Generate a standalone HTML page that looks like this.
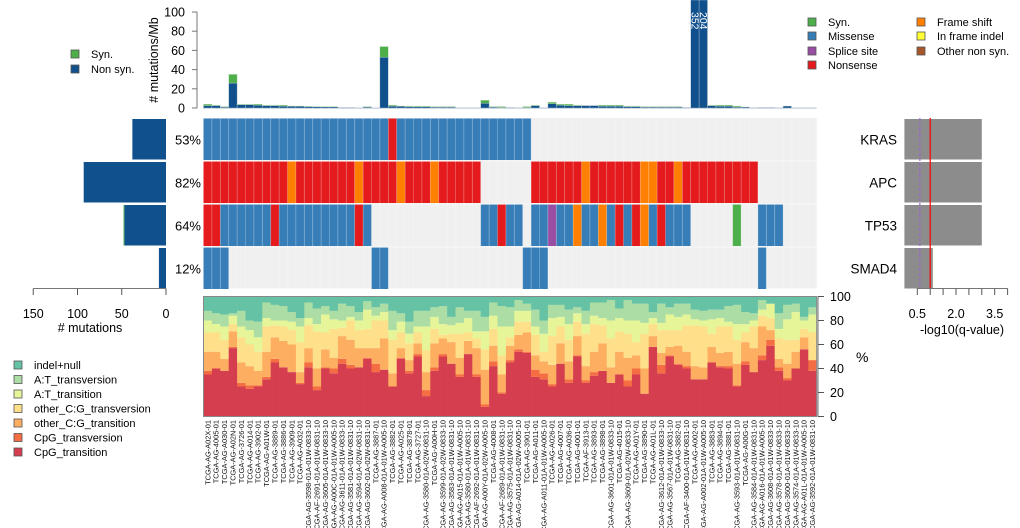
<!DOCTYPE html>
<html><head><meta charset="utf-8">
<style>
html,body{margin:0;padding:0;background:#fff;overflow:hidden}
svg{display:block;font-family:"Liberation Sans",sans-serif}
</style></head>
<body>
<svg id="chart" width="1020" height="528" viewBox="0 0 1020 528" xmlns="http://www.w3.org/2000/svg">
<g id="gTop"></g>
<g id="gMatrix"></g>
<g id="gLeft"></g>
<g id="gRight"></g>
<g id="gBottom"></g>
<g id="gLabels"></g>
<g id="gLegend"></g>
</svg>
<script>
// ---------- data ----------
const samples = ["TCGA-AG-A02X-01","TCGA-AG-4005-01","TCGA-AG-A030-01","TCGA-AG-A02N-01","TCGA-AG-3726-01","TCGA-AG-A014-01","TCGA-AG-3902-01","TCGA-AG-A01W-01","TCGA-AG-3889-01","TCGA-AG-3886-01","TCGA-AG-3909-01","TCGA-AG-A032-01","TCGA-AG-3598-01A-01W-0833-10","TCGA-AF-2691-01A-01W-0831-10","TCGA-AG-3605-01A-01W-0833-10","TCGA-AG-A00C-01A-01W-A005-10","TCGA-AG-3611-01A-01W-0833-10","TCGA-AG-3581-01A-01W-0831-10","TCGA-AG-3594-01A-02W-0831-10","TCGA-AG-3602-01A-02W-0831-10","TCGA-AG-3887-01","TCGA-AG-A008-01A-01W-A005-10","TCGA-AG-3882-01","TCGA-AG-A025-01","TCGA-AG-3878-01","TCGA-AG-3727-01","TCGA-AG-3580-01A-02W-0831-10","TCGA-AG-A00H-01","TCGA-AG-3599-01A-02W-0833-10","TCGA-AG-3583-01A-01W-0831-10","TCGA-AG-A015-01A-01W-A005-10","TCGA-AG-3580-01A-01W-0831-10","TCGA-AF-2692-01A-01W-0831-10","TCGA-AG-A00Y-01A-02W-A005-10","TCGA-AG-4008-01","TCGA-AF-2689-01A-01W-0831-10","TCGA-AG-3575-01A-01W-0831-10","TCGA-AG-A014-01A-02W-A005-10","TCGA-AG-3901-01","TCGA-AG-A011-01","TCGA-AG-A011-01A-01W-A005-10","TCGA-AG-A026-01","TCGA-AG-4007-01","TCGA-AG-A036-01","TCGA-AG-4001-01","TCGA-AF-3913-01","TCGA-AG-3893-01","TCGA-AG-3898-01","TCGA-AG-3601-01A-01W-0833-10","TCGA-AG-4015-01","TCGA-AG-3609-01A-02W-0833-10","TCGA-AG-A01Y-01","TCGA-AG-3890-01","TCGA-AG-A01L-01","TCGA-AG-3612-01A-01W-0833-10","TCGA-AG-3567-01A-01W-0831-10","TCGA-AG-3882-01","TCGA-AF-3400-01A-01W-0831-10","TCGA-AG-A002-01","TCGA-AG-A002-01A-01W-A005-10","TCGA-AG-3883-01","TCGA-AG-3894-01","TCGA-AG-3881-01","TCGA-AG-3593-01A-01W-0831-10","TCGA-AG-A00G-01","TCGA-AG-3584-01A-01W-0831-10","TCGA-AG-A016-01A-01W-A005-10","TCGA-AG-3608-01A-01W-0833-10","TCGA-AG-3578-01A-01W-0833-10","TCGA-AG-3600-01A-01W-0833-10","TCGA-AG-3574-01A-01W-0833-10","TCGA-AG-A01L-01A-01W-A005-10","TCGA-AG-3592-01A-01W-0831-10"];

const nonSynRate = [2.5,2.5,1,26,3.5,3.5,3,2.5,2.5,2,1.8,1.8,1.5,1.3,1.2,1.2,0.5,0.5,0.3,1,0.3,53,2,1.8,1.5,1.3,1.3,1,1,1,0.3,0.3,0.3,5,1,0.5,0.5,0.3,0.5,2.5,0.3,4.5,3,2.5,2.5,2.5,2.5,2,2,2,1.5,1.5,1,1,1,1,1,0.5,352,204,2.5,2,2,1,1,0.3,0.5,0.5,0.3,2,0.3,0.3,0.3];
const synRate    = [1.5,0.5,0.5,9,0.5,0.5,1,0.5,0.5,1,0.2,0.2,0.3,0.2,0.3,0.3,0,0,0,0.5,0,11,1,0.2,0.5,0.7,0.7,0.5,0.5,0.5,0,0,0,3,0.5,1,0,0,1,0.5,0,1.5,1,1.5,0.5,0,0,1,1,1,0.5,0.5,0.5,0.5,0.5,0.5,0.5,0,0,0,0.5,1,1,1,0,0,0,0,0,0,0,0,0];
const topTicks = [0,20,40,60,80,100];

const genes = ["KRAS","APC","TP53","SMAD4"];
const genePct = ["53%","82%","64%","12%"];
const geneNonSynCount = [38,93,47,8];
const geneSynCount = [0,0,1,0];
const geneQ = [3.0,3.0,3.0,1.1];
const leftTicks = [150,100,50,0];
const qTicks = [0.5,2.0,3.5];
// M missense, N nonsense, F frame shift, S splice, Y syn, . none
const alterations = [
 "MMMMMMMMMMMMMMMMMMMMMMNMMMMMMMMMMMMMMMM..................................",
 "NNNNNNNNNNFNNNNNNNFNNNNFNNNFNNNNN......NNNNNNFNNNNNNFFNNFNNNNNNNNN.......",
 "NNMMMMMMNMMMMMMMMMNM.............MMNMM.MMSMMFMMFMNMNFMNMMM.....Y..MMM....",
 "MMM.................MM................MMM.........................M......"
];

// cumulative tops (%) of each spectrum layer
const cpgTransition = [35,40,38,57,25,23,25,31,45,41,37,27,41,22,40,36,44,40,41,48,37,39,25,48,36,50,17,38,50,44,33,52,33,8,42,19,45,54,53,33,31,25,44,28,50,28,34,38,28,35,25,35,19,58,36,50,43,40,31,31,45,41,40,25,43,37,47,59,38,30,40,56,38];
const cpgTransversion = [38,40,38,58,28,26,26,33,48,41,37,28,45,25,41,40,48,43,41,49,44,39,25,49,38,52,22,41,52,44,35,52,35,10,46,20,47,56,54,39,36,27,44,31,51,30,37,38,28,35,30,40,19,58,43,51,44,42,31,31,45,42,42,26,46,37,51,64,41,32,40,56,47];
const otherCGTransition = [54,54,48,71,45,42,38,54,66,63,60,37,57,40,56,49,67,64,57,57,57,65,36,57,47,61,37,61,65,62,49,63,57,39,59,35,59,68,70,51,46,43,61,46,67,42,54,61,41,54,49,51,40,67,53,58,59,54,42,41,58,53,54,44,62,57,75,72,48,44,54,66,47];
const otherCGTransversion = [70,70,64,77,66,60,54,75,76,75,72,62,76,71,70,73,74,80,72,73,80,80,64,70,61,70,55,73,68,69,69,70,65,56,73,51,66,79,79,68,54,67,75,64,79,69,77,76,65,71,69,62,69,77,72,72,72,76,76,75,69,75,75,64,70,75,84,82,65,64,64,73,70];
const atTransition = [80,77,75,84,75,72,66,82,80,80,79,75,82,77,85,81,80,83,80,89,84,87,72,79,69,75,75,83,77,76,78,82,71,71,84,75,75,88,88,75,69,82,83,77,86,77,84,82,80,82,80,80,78,82,78,85,83,85,81,80,81,82,79,77,77,80,89,94,73,81,87,80,85];
const atTransversion = [88,86,85,86,88,80,79,95,93,92,87,82,95,90,92,88,94,92,87,96,91,94,88,86,79,88,88,91,92,83,91,88,88,83,95,92,91,97,94,89,80,93,93,89,91,88,95,95,97,90,97,94,94,87,94,91,94,94,89,88,89,89,92,93,87,86,97,94,86,93,94,83,91];
const bottomTicks = [0,20,40,60,80,100];

// ---------- helpers ----------
const NS="http://www.w3.org/2000/svg";
function mk(parent,tag,attrs,text){const e=document.createElementNS(NS,tag);for(const k in attrs)e.setAttribute(k,attrs[k]);if(text!==undefined)e.textContent=text;parent.appendChild(e);return e;}
const X0=203.5, CW=8.4, N=samples.length;
const colX = i => X0 + i*CW;
const topY = v => 108 - Math.min(v,112.5)*0.96;
const botY = v => 416.5 - v*1.2;
const leftX = v => 166 - v*0.885;
const qX = v => 904.4 + v*25.8;
const rowTop = [118.5,161.5,204.5,247.5], RH=41.5;

// ---------- top chart ----------
const gTop=document.getElementById('gTop');
mk(gTop,'line',{x1:197,y1:12,x2:197,y2:108,stroke:'#777'});
topTicks.forEach(t=>{
  const tk=mk(gTop,'line',{x1:192,x2:197,y1:topY(t),y2:topY(t),stroke:'#777'});
  
  
  const lb=mk(gTop,'text',{x:185,y:topY(t)+4.5,'text-anchor':'end','font-size':12.5,fill:'#000'},String(t));
  
  
});
const yt=mk(gTop,'text',{transform:'translate(158,60) rotate(-90)','text-anchor':'middle','font-size':12.5},'# mutations/Mb');


mk(gTop,'line',{x1:203,x2:816,y1:108.3,y2:108.3,stroke:'#c8d2dc','stroke-width':0.8});
for(let i=0;i<N;i++){
  const ns=nonSynRate[i], sy=synRate[i];
  const b=mk(gTop,'rect',{x:colX(i),width:CW,y:topY(ns),height:108-topY(ns),fill:'#10508c',stroke:'#b9c7d6','stroke-width':0.4});
  
  
  if(sy>0){
    const s=mk(gTop,'rect',{x:colX(i),width:CW,y:topY(ns+sy),height:topY(ns)-topY(ns+sy),fill:'#4daf4a',stroke:'#b9d6b9','stroke-width':0.4});
    
    
  }
  if(ns+sy>100){
    const t=mk(gTop,'text',{transform:`translate(${colX(i)+CW/2-3.5},12) rotate(90)`,'font-size':10.5,fill:'#fff'},String(ns+sy));
    
    
  }
}

// ---------- matrix ----------
const gM=document.getElementById('gMatrix');
const altColor={M:'#377eb8',N:'#e41a1c',F:'#ff7f00',S:'#984ea3',Y:'#4daf4a'};
mk(gM,'rect',{x:X0,y:118,width:N*CW,height:170.5,fill:'#f0f0f0'});
genes.forEach((g,r)=>{
  for(let i=0;i<N;i++){
    const c=alterations[r][i];
    if(c!=='.' && altColor[c]){
      const cell=mk(gM,'rect',{x:colX(i),y:rowTop[r],width:CW,height:RH,fill:altColor[c]});
      
      
    }
  }
});
for(let i=1;i<N;i++) mk(gM,'line',{x1:colX(i),x2:colX(i),y1:118,y2:289,stroke:'rgba(255,255,255,0.3)','stroke-width':0.8});
[161,204,247].forEach(y=>mk(gM,'line',{x1:X0,x2:X0+N*CW,y1:y,y2:y,stroke:'rgba(255,255,255,0.45)','stroke-width':1.2}));
genes.forEach((g,r)=>{
  const p=mk(gM,'text',{x:201,y:rowTop[r]+RH/2+5,'text-anchor':'end','font-size':13},genePct[r]);
  
  
  const gl=mk(gM,'text',{x:897,y:rowTop[r]+RH/2+5,'text-anchor':'end','font-size':13.5},g);
  
  
});

// ---------- left bars ----------
const gL=document.getElementById('gLeft');
genes.forEach((g,r)=>{
  const n=geneNonSynCount[r], s=geneSynCount[r];
  const b=mk(gL,'rect',{x:leftX(n),y:rowTop[r]+0.5,width:166-leftX(n),height:RH-1,fill:'#10508c'});
  
  
  if(s>0){
    const sb=mk(gL,'rect',{x:leftX(n+s),y:rowTop[r]+0.5,width:leftX(n)-leftX(n+s),height:RH-1,fill:'#4daf4a'});
    
    
  }
});
mk(gL,'line',{x1:leftX(150),x2:leftX(0),y1:288.5,y2:288.5,stroke:'#777'});
leftTicks.forEach(t=>{
  mk(gL,'line',{x1:leftX(t),x2:leftX(t),y1:288.5,y2:295,stroke:'#555'});
  const l=mk(gL,'text',{x:leftX(t),y:318,'text-anchor':'middle','font-size':12.5},String(t));
  
  
});
const lt=mk(gL,'text',{x:90,y:332,'text-anchor':'middle','font-size':12.5},'# mutations');



// ---------- right q-value ----------
const gR=document.getElementById('gRight');
genes.forEach((g,r)=>{
  const b=mk(gR,'rect',{x:qX(0),y:rowTop[r]+0.5,width:qX(geneQ[r])-qX(0),height:RH-1,fill:'#8c8c8c'});
  
  
});
mk(gR,'line',{x1:qX(0.6),x2:qX(0.6),y1:118,y2:289,stroke:'#9966cc','stroke-width':1.2,'stroke-dasharray':'3,2'});
mk(gR,'line',{x1:qX(1),x2:qX(1),y1:118,y2:289,stroke:'#ff0000','stroke-width':1.2});
mk(gR,'line',{x1:qX(0.5),x2:qX(4),y1:288.5,y2:288.5,stroke:'#777'});
for(let v=0.5;v<=4.01;v+=0.5) mk(gR,'line',{x1:qX(v),x2:qX(v),y1:288.5,y2:295,stroke:'#555'});
qTicks.forEach(t=>{
  const l=mk(gR,'text',{x:qX(t),y:318,'text-anchor':'middle','font-size':12.5},t.toFixed(1));
  
  
});
const qt=mk(gR,'text',{x:962,y:334,'text-anchor':'middle','font-size':12.5},'-log10(q-value)');



// ---------- bottom spectrum ----------
const gB=document.getElementById('gBottom');
const layers=[
  [null,cpgTransition,'#d53e4f','cpg-transition'],
  [cpgTransition,cpgTransversion,'#f46d43','cpg-transversion'],
  [cpgTransversion,otherCGTransition,'#fdae61','other-cg-transition'],
  [otherCGTransition,otherCGTransversion,'#fee08b','other-cg-transversion'],
  [otherCGTransversion,atTransition,'#e6f598','at-transition'],
  [atTransition,atTransversion,'#abdda4','at-transversion'],
  [atTransversion,null,'#66c2a5','indel-null']
];
for(let i=0;i<N;i++){
  layers.forEach(L=>{
    const lo=L[0]?L[0][i]:0, hi=L[1]?L[1][i]:100;
    if(hi>lo){
      const s=mk(gB,'rect',{x:colX(i),y:botY(hi),width:CW+0.3,height:botY(lo)-botY(hi),fill:L[2]});
      
      
    }
  });
}
mk(gB,'rect',{x:X0,y:botY(100),width:N*CW,height:120,fill:'none',stroke:'#888','stroke-width':1});
mk(gB,'line',{x1:818,x2:818,y1:botY(100),y2:botY(0),stroke:'#777'});
bottomTicks.forEach(t=>{
  mk(gB,'line',{x1:818,x2:824,y1:botY(t),y2:botY(t),stroke:'#555'});
  const l=mk(gB,'text',{x:830,y:botY(t)+4.5,'font-size':12.5},String(t));
  
  
});
const pt=mk(gB,'text',{x:856,y:362,'font-size':14},'%');



// ---------- sample labels ----------
const gS=document.getElementById('gLabels');
samples.forEach((s,i)=>{
  const t=mk(gS,'text',{transform:`translate(${colX(i)+CW/2+2.6},420) rotate(-90)`,'text-anchor':'end','font-size':7.4,fill:'#111'},s);
  
  
});

// ---------- legends ----------
const gG=document.getElementById('gLegend');
function legend(x,y,color,label,name,fs){
  const g=mk(gG,'g',{});
  
  
  mk(g,'rect',{x:x,y:y-4,width:8,height:8,fill:color,stroke:'#555','stroke-width':0.8});
  mk(g,'text',{x:x+20,y:y+4,'font-size':fs},label);
}
legend(808,22,'#4daf4a','Syn.','legend-syn',11);
legend(808,36,'#377eb8','Missense','legend-missense',11);
legend(808,51,'#984ea3','Splice site','legend-splice-site',11);
legend(808,65,'#e41a1c','Nonsense','legend-nonsense',11);
legend(917,22,'#ff7f00','Frame shift','legend-frame-shift',11);
legend(917,36,'#ffff33','In frame indel','legend-in-frame-indel',11);
legend(917,51,'#a65628','Other non syn.','legend-other-non-syn',11);
legend(71,54,'#4daf4a','Syn.','legend-tmb-syn',11);
legend(71,69,'#10508c','Non syn.','legend-tmb-nonsyn',11);
const specLeg=[['#66c2a5','indel+null'],['#abdda4','A:T_transversion'],['#e6f598','A:T_transition'],['#fee08b','other_C:G_transversion'],['#fdae61','other_C:G_transition'],['#f46d43','CpG_transversion'],['#d53e4f','CpG_transition']];
specLeg.forEach((d,k)=>legend(14,365+k*14.5,d[0],d[1],'legend-'+d[1].replace(/[^a-zA-Z]+/g,'-').toLowerCase(),11));
</script>
</body></html>
